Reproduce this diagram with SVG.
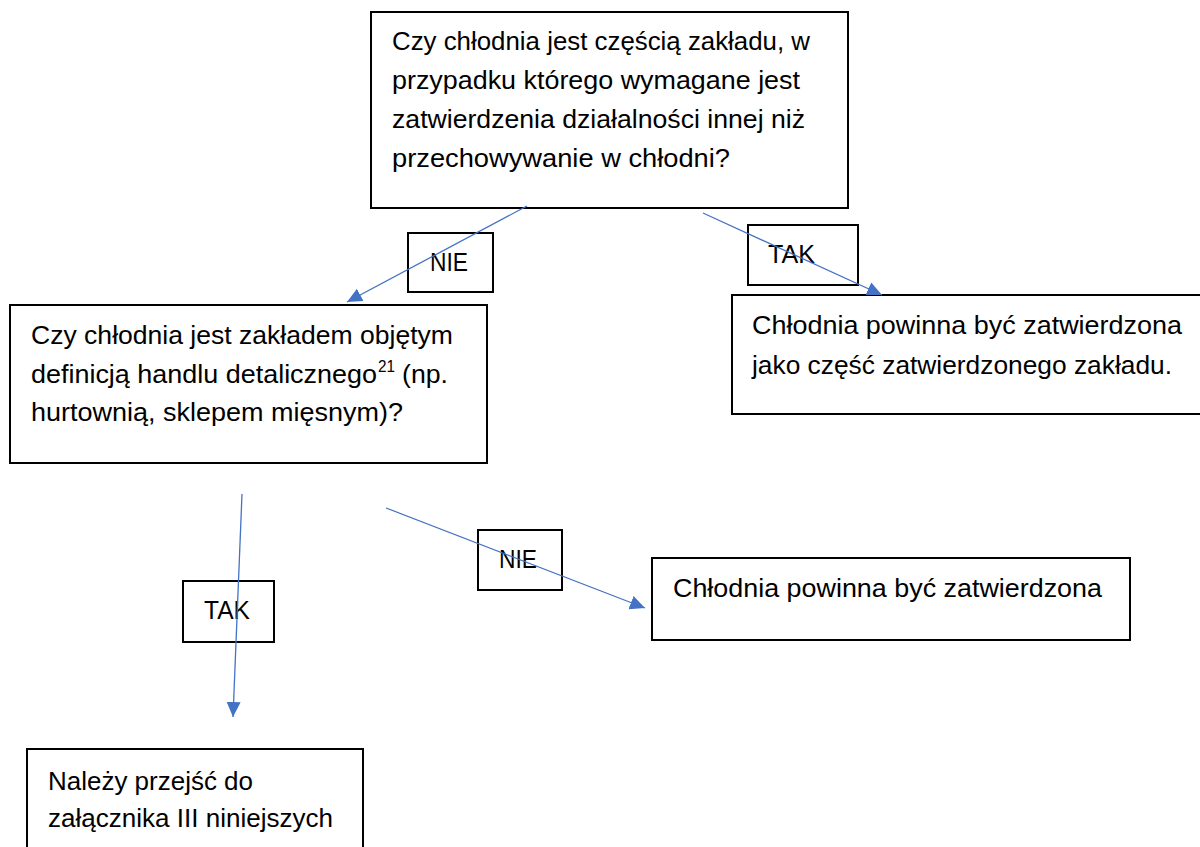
<svg xmlns="http://www.w3.org/2000/svg" width="1200" height="847" viewBox="0 0 1200 847">
<style>
.box{fill:#fff;stroke:#000;stroke-width:2}
.lbl{fill:none;stroke:#000;stroke-width:2}
.t{font-family:"Liberation Sans",Arial,sans-serif;font-size:25.5px;fill:#000}
.sup{font-family:"Liberation Sans",Arial,sans-serif;font-size:16px;fill:#000}
.c{stroke:#4472C4;stroke-width:1.3;fill:none;marker-end:url(#ah)}
</style>
<defs>
<marker id="ah" markerUnits="userSpaceOnUse" markerWidth="16" markerHeight="16" refX="15" refY="8" orient="auto">
<path d="M0,1 L15,8 L0,15 Z" fill="#4472C4"/>
</marker>
</defs>
<rect width="1200" height="847" fill="#fff"/>
<g id="q1">
<rect class="box" x="371" y="12" width="477" height="196"/>
<text class="t"><tspan x="392" y="50" textLength="418" lengthAdjust="spacingAndGlyphs">Czy chłodnia jest częścią zakładu, w</tspan><tspan x="392" y="89" textLength="408" lengthAdjust="spacingAndGlyphs">przypadku którego wymagane jest</tspan><tspan x="392" y="128" textLength="413" lengthAdjust="spacingAndGlyphs">zatwierdzenia działalności innej niż</tspan><tspan x="392" y="167" textLength="338" lengthAdjust="spacingAndGlyphs">przechowywanie w chłodni?</tspan></text>
</g>
<g id="q2">
<rect class="box" x="10" y="305" width="477" height="158"/>
<text class="t"><tspan x="31" y="344" textLength="422" lengthAdjust="spacingAndGlyphs">Czy chłodnia jest zakładem objętym</tspan><tspan x="31" y="383" textLength="346" lengthAdjust="spacingAndGlyphs">definicją handlu detalicznego</tspan></text>
<text class="sup" x="378" y="372" textLength="17" lengthAdjust="spacingAndGlyphs">21</text>
<text class="t" x="402" y="383" textLength="46" lengthAdjust="spacingAndGlyphs">(np.</text>
<text class="t" x="31" y="421" textLength="372" lengthAdjust="spacingAndGlyphs">hurtownią, sklepem mięsnym)?</text>
</g>
<g id="r1">
<rect class="box" x="732" y="295" width="470" height="119"/>
<text class="t"><tspan x="752" y="334" textLength="430" lengthAdjust="spacingAndGlyphs">Chłodnia powinna być zatwierdzona</tspan><tspan x="752" y="374" textLength="420" lengthAdjust="spacingAndGlyphs">jako część zatwierdzonego zakładu.</tspan></text>
</g>
<g id="r2">
<rect class="box" x="652" y="558" width="478" height="82"/>
<text class="t" x="673" y="597" textLength="429" lengthAdjust="spacingAndGlyphs">Chłodnia powinna być zatwierdzona</text>
</g>
<g id="r3">
<rect class="box" x="27" y="749" width="336" height="120"/>
<text class="t"><tspan x="48" y="790" textLength="205" lengthAdjust="spacingAndGlyphs">Należy przejść do</tspan><tspan x="48" y="827" textLength="285" lengthAdjust="spacingAndGlyphs">załącznika III niniejszych</tspan></text>
</g>
<g id="labels">
<g id="l-nie1"><rect class="lbl" x="408" y="233" width="85" height="59"/><text class="t" x="430" y="271" textLength="38" lengthAdjust="spacingAndGlyphs">NIE</text></g>
<g id="l-tak1"><rect class="lbl" x="748" y="225" width="110" height="60"/><text class="t" x="768" y="263" textLength="47" lengthAdjust="spacingAndGlyphs">TAK</text></g>
<g id="l-tak2"><rect class="lbl" x="183" y="581" width="91" height="61"/><text class="t" x="204" y="619" textLength="46" lengthAdjust="spacingAndGlyphs">TAK</text></g>
<g id="l-nie2"><rect class="lbl" x="478" y="530" width="84" height="60"/><text class="t" x="499" y="568" textLength="38" lengthAdjust="spacingAndGlyphs">NIE</text></g>
</g>
<g id="connectors">
<line class="c" x1="527" y1="206" x2="347" y2="302"/>
<line class="c" x1="703" y1="213" x2="882" y2="295"/>
<line class="c" x1="242" y1="494" x2="233" y2="717"/>
<line class="c" x1="386" y1="508" x2="645" y2="608"/>
</g>
</svg>
